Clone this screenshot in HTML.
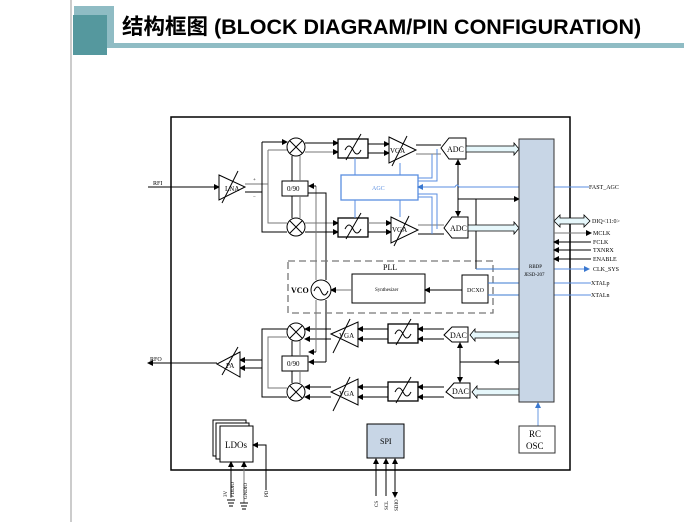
<!DOCTYPE html>
<html><head><meta charset="utf-8"><style>
html,body{margin:0;padding:0;background:#fff;}
svg{display:block}
text{font-family:"Liberation Serif",serif;}
</style></head><body>
<svg width="684" height="522" viewBox="0 0 684 522" xmlns="http://www.w3.org/2000/svg">
<defs>
<marker id="a" markerWidth="6" markerHeight="6" refX="5" refY="3" orient="auto-start-reverse"><path d="M0,0 L6,3 L0,6z" fill="#000"/></marker>
<marker id="b" markerWidth="6" markerHeight="6" refX="5" refY="3" orient="auto"><path d="M0,0 L6,3 L0,6z" fill="#3a78d0"/></marker>
</defs>
<!-- header -->
<line x1="71" y1="0" x2="71" y2="522" stroke="#bbb" stroke-width="1.5"/>
<rect x="74" y="6" width="40" height="40" fill="#8fbcc4"/>
<rect x="73" y="15" width="34" height="40" fill="#55989e"/>
<rect x="107" y="43" width="577" height="5" fill="#8fbcc4"/>
<text x="122" y="34" font-size="21.5" font-weight="bold" style="font-family:'Liberation Sans','Noto Sans CJK SC',sans-serif">结构框图 (BLOCK DIAGRAM/PIN CONFIGURATION)</text>

<!-- main box -->
<rect x="171" y="117" width="399" height="353" fill="none" stroke="#000" stroke-width="1.5"/>

<g stroke="#000" stroke-width="1" fill="none">
<!-- RFI -->
<line x1="148" y1="187" x2="219" y2="187" marker-end="url(#a)"/>
<polygon points="219,175 245,187 219,200" fill="#fff"/>
<line x1="222" y1="203" x2="238" y2="171"/>
<line x1="245" y1="184" x2="268" y2="184" stroke="#777"/>
<line x1="245" y1="192" x2="262" y2="192"/>
<polyline points="262,142 262,232 287,232"/>
<polyline points="268,150 268,223 287,223" stroke="#777"/>
<line x1="262" y1="142" x2="287" y2="142" marker-end="url(#a)"/>
<line x1="268" y1="150" x2="287" y2="150" stroke="#777"/>
<!-- mixers RX -->
<circle cx="296" cy="147" r="9" fill="#fff"/><path d="M290,141 L302,153 M302,141 L290,153"/>
<circle cx="296" cy="227" r="9" fill="#fff"/><path d="M290,221 L302,233 M302,221 L290,233"/>
<rect x="282" y="181" width="26" height="15" fill="#fff"/>
<line x1="292" y1="181" x2="292" y2="156"/><line x1="300" y1="181" x2="300" y2="156" stroke="#777"/>
<line x1="292" y1="196" x2="292" y2="218"/><line x1="300" y1="196" x2="300" y2="218" stroke="#777"/>
<line x1="305" y1="143" x2="338" y2="143" marker-end="url(#a)"/>
<line x1="305" y1="152" x2="338" y2="152" stroke="#777" marker-end="url(#a)"/>
<line x1="305" y1="223" x2="338" y2="223" stroke="#777" marker-end="url(#a)"/>
<line x1="305" y1="232" x2="338" y2="232" marker-end="url(#a)"/>
<!-- filters RX -->
<rect x="338" y="139" width="30" height="19" fill="#fff" stroke-width="1.3"/>
<rect x="338" y="218" width="30" height="19" fill="#fff" stroke-width="1.3"/>
<path d="M345,150 q4,-8 8,0 t8,0 M346,160 L361,134 M345,229 q4,-8 8,0 t8,0 M346,239 L361,213"/>
<line x1="368" y1="144" x2="389" y2="144" marker-end="url(#a)"/>
<line x1="368" y1="153" x2="389" y2="153" marker-end="url(#a)"/>
<line x1="368" y1="223" x2="391" y2="223" stroke="#777" marker-end="url(#a)"/>
<line x1="368" y1="232" x2="391" y2="232" marker-end="url(#a)"/>
<!-- VGA RX -->
<polygon points="389,137 416,150 389,163" fill="#fff"/>
<line x1="392" y1="166" x2="407" y2="136"/>
<polygon points="391,217 418,230 391,243" fill="#fff"/>
<line x1="394" y1="246" x2="409" y2="216"/>
<line x1="416" y1="145" x2="441" y2="145"/><line x1="416" y1="154" x2="441" y2="154" stroke="#777"/>
<line x1="418" y1="225" x2="444" y2="225" stroke="#777"/><line x1="418" y1="234" x2="444" y2="234"/>
<!-- ADC -->
<polygon points="441,148 449,138 466,138 466,159 449,159" fill="#fff"/>
<polygon points="444,228 452,217 468,217 468,238 452,238" fill="#fff"/>
<line x1="458" y1="160" x2="458" y2="216" marker-end="url(#a)" marker-start="url(#a)"/>
<!-- TX -->
<circle cx="296" cy="332" r="9" fill="#fff"/><path d="M290,326 L302,338 M302,326 L290,338"/>
<circle cx="296" cy="392" r="9" fill="#fff"/><path d="M290,386 L302,398 M302,386 L290,398"/>
<rect x="282" y="356" width="26" height="15" fill="#fff"/>
<line x1="292" y1="356" x2="292" y2="341"/><line x1="300" y1="356" x2="300" y2="341" stroke="#777"/>
<line x1="292" y1="371" x2="292" y2="383"/><line x1="300" y1="371" x2="300" y2="383" stroke="#777"/>
<polyline points="287,329 262,329 262,397 287,397"/>
<polyline points="287,337 268,337 268,388 287,388" stroke="#777"/>
<line x1="262" y1="360" x2="240" y2="360" marker-end="url(#a)"/>
<line x1="262" y1="368" x2="240" y2="368" marker-end="url(#a)"/>
<polygon points="240,352 217,364 240,377" fill="#fff"/>
<line x1="222" y1="375" x2="238" y2="347"/>
<line x1="217" y1="363" x2="148" y2="363" marker-end="url(#a)"/>
<polygon points="331,334 358,322 358,347" fill="#fff"/>
<line x1="333" y1="353" x2="350" y2="319"/>
<polygon points="331,392 358,379 358,405" fill="#fff"/>
<line x1="333" y1="411" x2="350" y2="377"/>
<line x1="331" y1="329" x2="305" y2="329" marker-end="url(#a)"/>
<line x1="331" y1="339" x2="305" y2="339" marker-end="url(#a)"/>
<line x1="331" y1="387" x2="305" y2="387" marker-end="url(#a)"/>
<line x1="331" y1="397" x2="305" y2="397" marker-end="url(#a)"/>
<line x1="388" y1="329" x2="358" y2="329" marker-end="url(#a)"/>
<line x1="388" y1="339" x2="358" y2="339" marker-end="url(#a)"/>
<line x1="388" y1="387" x2="358" y2="387" marker-end="url(#a)"/>
<line x1="388" y1="397" x2="358" y2="397" marker-end="url(#a)"/>
<rect x="388" y="324" width="30" height="19" fill="#fff" stroke-width="1.3"/>
<rect x="388" y="382" width="30" height="19" fill="#fff" stroke-width="1.3"/>
<path d="M395,334 q4,-8 8,0 t8,0 M396,345 L411,319 M395,392 q4,-8 8,0 t8,0 M396,403 L411,377"/>
<line x1="444" y1="329" x2="418" y2="329" marker-end="url(#a)"/>
<line x1="444" y1="339" x2="418" y2="339" marker-end="url(#a)"/>
<line x1="444" y1="387" x2="418" y2="387" marker-end="url(#a)"/>
<line x1="444" y1="397" x2="418" y2="397" marker-end="url(#a)"/>
<polygon points="444,335 452,327 468,327 468,342 452,342" fill="#fff"/>
<polygon points="446,392 454,383 470,383 470,398 454,398" fill="#fff"/>
<line x1="460" y1="343" x2="460" y2="382" marker-end="url(#a)" marker-start="url(#a)"/>
<line x1="519" y1="362" x2="460" y2="362"/>
<line x1="519" y1="362" x2="494" y2="362" marker-end="url(#a)"/>
<!-- LO lines -->
<polyline points="316,186 316,280" stroke="#777"/>
<line x1="316" y1="186" x2="309" y2="186" marker-end="url(#a)"/>
<polyline points="308,193 326,193 326,280"/>
<polyline points="316,300 316,352" stroke="#777"/>
<polyline points="326,300 326,362"/>
<line x1="316" y1="352" x2="309" y2="352" marker-end="url(#a)"/>
<line x1="326" y1="362" x2="309" y2="362" marker-end="url(#a)"/>
<!-- PLL -->
<rect x="288" y="261" width="205" height="52" stroke="#777" stroke-dasharray="7,4" stroke-width="1.3"/>
<circle cx="321" cy="290" r="10" fill="#fff"/>
<path d="M314,291 q3.5,-8 7,0 t7,0"/>
<rect x="352" y="274" width="73" height="29" fill="#fff"/>
<line x1="352" y1="290" x2="331" y2="290" stroke="#777" marker-end="url(#a)"/>
<line x1="462" y1="290" x2="425" y2="290" marker-end="url(#a)"/>
<rect x="462" y="275" width="26" height="28" fill="#fff"/>
<!-- clock distribution -->
<line x1="458" y1="199" x2="519" y2="199" marker-end="url(#a)"/>
<line x1="476" y1="199" x2="476" y2="269"/>
<line x1="476" y1="269" x2="519" y2="269" stroke="#3a78d0"/>
<line x1="488" y1="283" x2="519" y2="283" stroke="#3a78d0"/>
<line x1="488" y1="295" x2="519" y2="295" stroke="#3a78d0"/>
</g>

<!-- AGC -->
<g stroke="#5a8ee0" stroke-width="1" fill="none">
<rect x="341" y="175" width="77" height="25" stroke-width="1.3"/>
<line x1="355" y1="158" x2="355" y2="175"/><line x1="400" y1="163" x2="400" y2="175"/>
<line x1="355" y1="200" x2="355" y2="218"/><line x1="400" y1="200" x2="400" y2="217"/>
<polyline points="418,178 432,178 432,154"/><polyline points="418,197 432,197 432,234"/>
<polyline points="418,181 437,181 437,149"/><polyline points="418,194 437,194 437,229"/>
<path d="M519,187 L459,187 q-2,-4 -4,0 L418,187" marker-end="url(#b)"/>
<line x1="554" y1="187" x2="589" y2="187"/>
<line x1="554" y1="269" x2="589" y2="269" marker-end="url(#b)"/>
<line x1="554" y1="283" x2="591" y2="283"/><line x1="554" y1="295" x2="591" y2="295"/>
<line x1="538" y1="426" x2="538" y2="403" stroke="#6a9ae0" marker-end="url(#b)"/>
</g>

<!-- buses -->
<g fill="#e6f7fb" stroke="#000" stroke-width="0.8">
<polygon points="466,146 514,146 514,143 519,149 514,155 514,152 466,152"/>
<polygon points="468,225 514,225 514,222 519,228 514,234 514,231 468,231"/>
<polygon points="519,332 475,332 475,329 470,335 475,341 475,338 519,338"/>
<polygon points="519,389 477,389 477,386 472,392 477,398 477,395 519,395"/>
<polygon points="560,218 584,218 584,215 590,221 584,227 584,224 560,224 560,227 554,221 560,215"/>
</g>

<!-- RBDP -->
<rect x="519" y="139" width="35" height="263" fill="#c8d6e6" stroke="#333" stroke-width="1"/>
<rect x="519" y="426" width="36" height="27" fill="#fff" stroke="#333"/>
<g stroke="#000" stroke-width="1">
<line x1="554" y1="233" x2="591" y2="233" stroke="#777" marker-end="url(#a)"/>
<line x1="591" y1="242" x2="554" y2="242" marker-end="url(#a)"/>
<line x1="591" y1="250" x2="554" y2="250" marker-end="url(#a)"/>
<line x1="591" y1="259" x2="554" y2="259" marker-end="url(#a)"/>
</g>

<!-- LDOs & SPI -->
<g stroke="#000" stroke-width="1" fill="none">
<rect x="213" y="420" width="33" height="36" fill="#fff"/>
<rect x="216" y="423" width="33" height="36" fill="#fff"/>
<rect x="220" y="426" width="33" height="36" fill="#fff"/>
<line x1="231" y1="497" x2="231" y2="462" marker-end="url(#a)"/>
<line x1="244" y1="503" x2="244" y2="462" stroke="#777" marker-end="url(#a)"/>
<polyline points="266,490 266,445 260,445"/>
<line x1="260" y1="445" x2="253" y2="445" marker-end="url(#a)"/>
<path d="M227,500 h8 M228,503 h6 M229,506 h4 M240,503 h8 M241,506 h6 M242,509 h4"/>
<rect x="367" y="424" width="37" height="34" fill="#c8d6e6"/>
<line x1="376" y1="496" x2="376" y2="459" marker-end="url(#a)"/>
<line x1="386" y1="496" x2="386" y2="459" marker-end="url(#a)"/>
<line x1="395" y1="470" x2="395" y2="459" marker-end="url(#a)"/>
<line x1="395" y1="470" x2="395" y2="497" marker-end="url(#a)"/>
</g>

<!-- text -->
<g font-size="6" fill="#000">
<text x="153" y="185">RFI</text>
<text x="150" y="361">RFO</text>
<text x="253" y="181" font-size="5">+</text><text x="253" y="198" font-size="5">−</text>
<text x="225" y="191" font-size="7">LNA</text>
<text x="390" y="153" font-size="7">VGA</text>
<text x="392" y="232" font-size="7">VGA</text>
<text x="339" y="338" font-size="7">VGA</text>
<text x="339" y="396" font-size="7">VGA</text>
<text x="226" y="368" font-size="7">PA</text>
<text x="447" y="152" font-size="8">ADC</text>
<text x="450" y="231" font-size="8">ADC</text>
<text x="450" y="338" font-size="8">DAC</text>
<text x="452" y="394" font-size="8">DAC</text>
<text x="287" y="191" font-size="7">0/90</text>
<text x="287" y="366" font-size="7">0/90</text>
<text x="372" y="190" fill="#5a8ee0" font-size="6">AGC</text>
<text x="383" y="270" font-size="8">PLL</text>
<text x="291" y="293" font-size="8" font-weight="bold">VCO</text>
<text x="375" y="291" font-size="5">Synthesizer</text>
<text x="467" y="292" font-size="6">DCXO</text>
<text x="529" y="268" font-size="5">RBDP</text>
<text x="524" y="276" font-size="5">JESD-207</text>
<text x="529" y="437" font-size="9">RC</text>
<text x="526" y="449" font-size="9">OSC</text>
<text x="589" y="189">FAST_AGC</text>
<text x="592" y="223">DIQ&lt;11:0&gt;</text>
<text x="593" y="235">MCLK</text>
<text x="593" y="244">FCLK</text>
<text x="593" y="252">TXNRX</text>
<text x="593" y="261">ENABLE</text>
<text x="593" y="271">CLK_SYS</text>
<text x="591" y="285">XTALp</text>
<text x="591" y="297">XTALn</text>
<text x="225" y="448" font-size="9">LDOs</text>
<text x="380" y="444" font-size="8">SPI</text>
<g font-size="5">
<text transform="translate(227,497) rotate(-90)">3V</text>
<text transform="translate(234,498) rotate(-90)">VDDIO</text>
<text transform="translate(247,499) rotate(-90)">GNDIO</text>
<text transform="translate(268,497) rotate(-90)">PD</text>
<text transform="translate(378,507) rotate(-90)">CS</text>
<text transform="translate(388,510) rotate(-90)">SCL</text>
<text transform="translate(398,511) rotate(-90)">SDIO</text>
</g>
</g>
</svg>
</body></html>
